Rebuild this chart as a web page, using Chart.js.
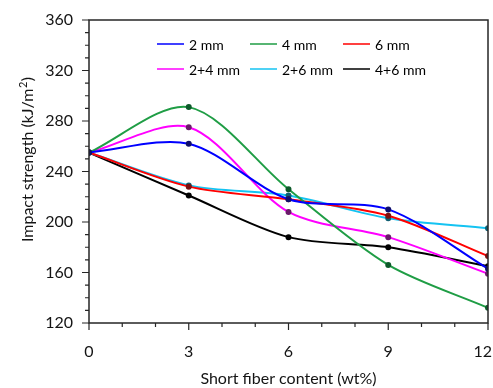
<!DOCTYPE html>
<html>
<head>
<meta charset="utf-8">
<script src="https://cdn.jsdelivr.net/npm/chart.js@4.4.1/dist/chart.umd.min.js"></script>
<style>
  html, body { margin: 0; padding: 0; background: #fff; }
  #wrap { width: 493px; height: 388px; }
</style>
</head>
<body>
<div id="wrap"><canvas id="impactChart" width="493" height="388"></canvas></div>
<script>
// fiber content (wt%)
const fiberContent = [0, 3, 6, 9, 12];

// impact strength (kJ/m2) for each fiber length
const mm2 = [255, 262, 218, 210, 163];
const mm4 = [255, 291, 226, 166, 132];
const mm6 = [255, 228, 218, 205, 173];
const mm2plus4 = [255, 275, 208, 188, 159];
const mm2plus6 = [255, 229, 221, 203, 195];
const mm4plus6 = [255, 221, 188, 180, 165];

const seriesNames = ["2 mm", "4 mm", "6 mm", "2+4 mm", "2+6 mm", "4+6 mm"];
const seriesValues = [mm2, mm4, mm6, mm2plus4, mm2plus6, mm4plus6];
const lineColors = ["#0000ff", "#1f9d45", "#ff0000", "#ff00ff", "#14c3f2", "#000000"];
const dotColors = ["#10106a", "#0d5a2a", "#7a1010", "#6a1a6a", "#0e5e72", "#000000"];

const yTicks = { min: 120, max: 360, step: 40, minor: 10 };
const xTicks = { min: 0, max: 12, step: 3, minor: 1 };

const font = "Lato";
const textColor = "#141414";

let ctx = document.getElementById("impactChart").getContext("2d");

let datasets = seriesNames.map(function (name, i) {
  return {
    label: name,
    data: fiberContent.map(function (x, j) { return { x: x, y: seriesValues[i][j] }; }),
    borderColor: lineColors[i],
    backgroundColor: dotColors[i],
    pointBackgroundColor: dotColors[i],
    pointBorderColor: dotColors[i],
    pointRadius: 2,
    pointHoverRadius: 2,
    borderWidth: 2,
    tension: 0.3,
    fill: false
  };
});

// box, outward ticks, x labels, legend and y title
const decorations = {
  id: "decorations",
  afterDatasetsDraw(chart) {
    const c = chart.ctx;
    const a = chart.chartArea;
    const xs = chart.scales.x;
    const ys = chart.scales.y;
    c.save();
    c.strokeStyle = "#262626";
    c.lineWidth = 1.5;
    c.strokeRect(a.left, a.top, a.right - a.left, a.bottom - a.top);

    c.lineWidth = 1.2;
    c.beginPath();
    for (let v = yTicks.min; v <= yTicks.max; v += yTicks.minor) {
      const py = ys.getPixelForValue(v);
      const len = (v - yTicks.min) % yTicks.step === 0 ? 7 : 4;
      c.moveTo(a.left, py);
      c.lineTo(a.left - len, py);
    }
    for (let v = xTicks.min; v <= xTicks.max; v += xTicks.minor) {
      const px = xs.getPixelForValue(v);
      const len = (v - xTicks.min) % xTicks.step === 0 ? 7 : 4;
      c.moveTo(px, a.bottom);
      c.lineTo(px, a.bottom + len);
    }
    c.stroke();

    // x tick labels, last one kept inside the canvas
    c.font = "16px " + font;
    c.fillStyle = textColor;
    c.textAlign = "center";
    c.textBaseline = "middle";
    for (let v = xTicks.min; v <= xTicks.max; v += xTicks.step) {
      const label = String(v);
      const w = c.measureText(label).width;
      let px = xs.getPixelForValue(v);
      px = Math.min(px, chart.width - w / 2 - 1);
      c.fillText(label, px, a.bottom + 29);
    }

    // legend: 2 rows x 3 columns
    const colX = [157, 250, 343];
    const rowY = [44, 69];
    c.font = "14px " + font;
    c.textAlign = "left";
    seriesNames.forEach(function (name, i) {
      const lx = colX[i % 3];
      const ly = rowY[Math.floor(i / 3)];
      c.strokeStyle = lineColors[i];
      c.lineWidth = 1.5;
      c.beginPath();
      c.moveTo(lx, ly);
      c.lineTo(lx + 27, ly);
      c.stroke();
      c.fillStyle = "#000";
      c.fillText(name, lx + 32, ly + 1);
    });

    // y axis title with superscript
    c.translate(28, 160);
    c.rotate(-Math.PI / 2);
    const main = "Impact strength (kJ/m";
    const sup = "2";
    const tail = ")";
    c.font = "16px " + font;
    const w1 = c.measureText(main).width;
    const w3 = c.measureText(tail).width;
    c.font = "11px " + font;
    const w2 = c.measureText(sup).width;
    let sx = -(w1 + w2 + w3) / 2;
    c.fillStyle = textColor;
    c.font = "16px " + font;
    c.fillText(main, sx, 0);
    c.font = "11px " + font;
    c.fillText(sup, sx + w1 + 0.5, -5);
    c.font = "16px " + font;
    c.fillText(tail, sx + w1 + w2 + 1, 0);
    c.restore();
  }
};

let chartInstance = new Chart(ctx, {
  type: "line",
  data: { datasets: datasets },
  options: {
    responsive: false,
    animation: false,
    events: [],
    layout: { padding: { left: 0, right: 5, top: 20, bottom: 0 } },
    plugins: {
      legend: { display: false },
      tooltip: { enabled: false }
    },
    scales: {
      x: {
        type: "linear",
        min: xTicks.min,
        max: xTicks.max,
        grid: { display: false, drawTicks: false },
        border: { display: false },
        ticks: { display: false, stepSize: xTicks.step },
        title: {
          display: true,
          text: "Short fiber content (wt%)",
          color: textColor,
          font: { family: font, size: 16 },
          padding: { top: 0, bottom: 0 }
        },
        afterFit: function (scale) {
          scale.height = 65;
          scale.paddingLeft = 0;
          scale.paddingRight = 0;
        }
      },
      y: {
        min: yTicks.min,
        max: yTicks.max,
        grid: { display: false, drawTicks: false },
        border: { display: false },
        ticks: {
          stepSize: yTicks.step,
          padding: 16,
          color: textColor,
          font: { family: font, size: 16 }
        },
        afterFit: function (scale) {
          scale.width = 89;
          scale.paddingTop = 0;
          scale.paddingBottom = 0;
        }
      }
    }
  },
  plugins: [decorations]
});
</script>
</body>
</html>
